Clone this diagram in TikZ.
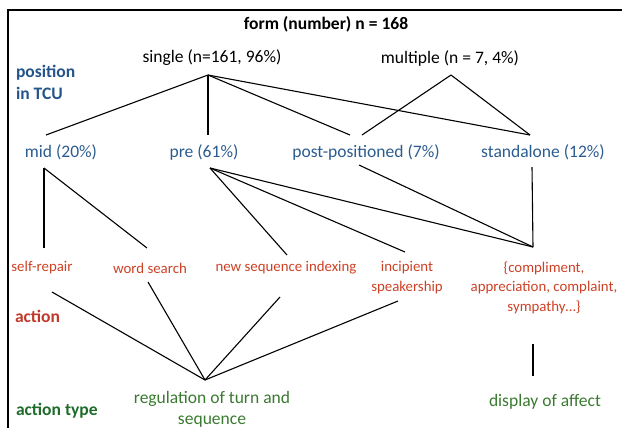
\documentclass[tikz,border=0pt]{standalone}
\usepackage{fontspec}
\setmainfont{Carlito}
\definecolor{lblue}{HTML}{2B5C8F}
\definecolor{bblue}{HTML}{24548A}
\definecolor{lred}{HTML}{CC4125}
\definecolor{bred}{HTML}{C0392B}
\definecolor{lgreen}{HTML}{3A7A30}
\definecolor{bgreen}{HTML}{1F6B2A}
\begin{document}
\begin{tikzpicture}[x=1bp,y=-1bp,
  every node/.style={inner sep=0pt,outer sep=0pt,font=\fontsize{17.6}{19.5}\selectfont},
  txt/.style={text=black},
  posn/.style={text=lblue},
  act/.style={text=lred,align=center,font=\fontsize{14.9}{19.5}\selectfont},
  typ/.style={text=lgreen,align=center},
  lvl/.style={font=\fontsize{17.6}{21}\selectfont\bfseries,anchor=west,align=left},
  conn/.style={line width=1.1bp,black},
  frame/.style={line width=2.2bp,black}]
\useasboundingbox (0,0) rectangle (622,428);
% frame
\coordinate (fTR) at (622,10);
\coordinate (fTL) at (8,10);
\coordinate (fBL) at (8,428);
\draw[frame] (fTR) -- (fTL) -- (fBL);
% level labels
\node[lvl,text=bblue] (lpos) at (16,82) {position\\[1pt]in TCU};
\node[lvl,text=bred] (lact) at (15,316) {action};
\node[lvl,text=bgreen] (ltyp) at (16,411) {action type};
% title and level 1
\node[font=\fontsize{17.6}{19.5}\selectfont\bfseries] (title) at (326,24) {form (number) n = 168};
\node[txt] (single) at (212,58) {single (n=161, 96\%)};
\node[txt] (multiple) at (450,58) {multiple (n = 7, 4\%)};
\coordinate (singleB) at (208,75);
\coordinate (multipleB) at (451,75);
% level 2
\node[posn] (mid) at (61,152) {mid (20\%)};
\node[posn] (pre) at (204,152) {pre (61\%)};
\node[posn] (post) at (366,152) {post-positioned (7\%)};
\node[posn] (stand) at (543,152) {standalone (12\%)};
\coordinate (midT) at (46,135);
\coordinate (preT) at (208,135);
\coordinate (postTa) at (350,135);
\coordinate (postTb) at (362,135);
\coordinate (standT) at (530,135);
\coordinate (midB) at (44,168);
\coordinate (preB) at (210,168);
\coordinate (postB) at (359,165);
\coordinate (standB) at (532,167);
% level 3
\node[act] (selfrep) at (42,268) {self-repair};
\node[act] (wordsearch) at (150,268) {word search};
\node[act] (newseq) at (286,268) {new sequence indexing};
\node[act] (incip) at (407,277.5) {incipient\\speakership};
\node[act] (compl) at (544,287.5) {\{compliment,\\appreciation, complaint,\\sympathy…\}};
\coordinate (selfrepT) at (44,248);
\coordinate (wordT) at (147,248);
\coordinate (newseqT) at (287,255);
\coordinate (incipT) at (405,252);
\coordinate (complT) at (533,247);
\coordinate (selfrepB) at (52,292);
\coordinate (wordB) at (148,282);
\coordinate (newseqB) at (280,297);
\coordinate (incipB) at (398,301);
\coordinate (complB) at (533,344);
% level 4
\node[typ] (reg) at (212,409.5) {regulation of turn and\\[1pt]sequence};
\node[typ] (disp) at (545,402) {display of affect};
\coordinate (regT) at (205,380);
\coordinate (dispT) at (533,376);
% connectors
\draw[conn] (singleB) -- (midT);
\draw[conn] (singleB) -- (preT);
\draw[conn] (singleB) -- (postTa);
\draw[conn] (singleB) -- (standT);
\draw[conn] (multipleB) -- (postTb);
\draw[conn] (multipleB) -- (standT);
\draw[conn] (midB) -- (selfrepT);
\draw[conn] (midB) -- (wordT);
\draw[conn] (preB) -- (newseqT);
\draw[conn] (preB) -- (incipT);
\draw[conn] (preB) -- (complT);
\draw[conn] (postB) -- (complT);
\draw[conn] (standB) -- (complT);
\draw[conn] (selfrepB) -- (regT);
\draw[conn] (wordB) -- (regT);
\draw[conn] (newseqB) -- (regT);
\draw[conn] (incipB) -- (regT);
\draw[conn] (complB) -- (dispT);
\end{tikzpicture}
\end{document}
